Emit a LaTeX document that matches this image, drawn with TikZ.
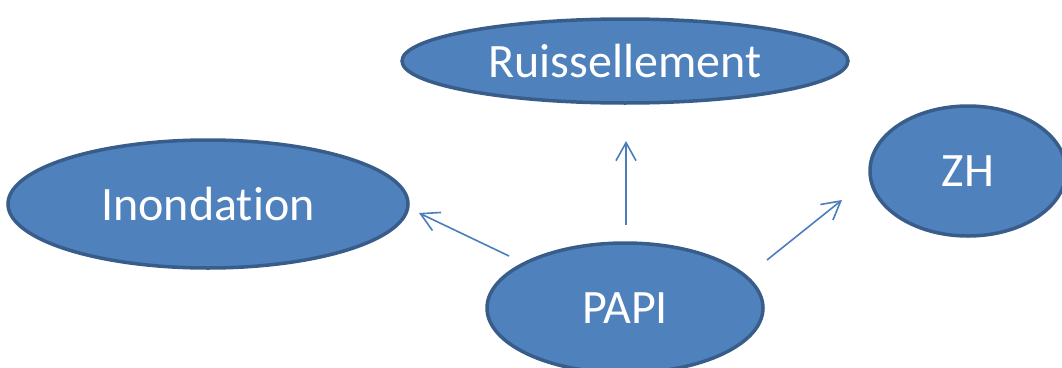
\documentclass[tikz,border=0pt]{standalone}
\usepackage{fontspec}
\setmainfont{Carlito}[Ligatures=NoCommon]
\usetikzlibrary{shapes.geometric,arrows.meta}
\definecolor{fillblue}{HTML}{4F81BD}
\definecolor{edgeblue}{HTML}{385D8A}
\definecolor{arrowblue}{HTML}{4A7EBB}
\tikzset{
  bubble/.style={ellipse, fill=fillblue, draw=edgeblue, line width=3.5pt, inner sep=0pt,
    text=white, font=\fontsize{48}{54}\selectfont},
  link/.style={draw=arrowblue, line width=1.6pt, -{Straight Barb[length=18pt,width=20pt,line width=1.6pt]}}
}
\begin{document}
\begin{tikzpicture}[x=1pt,y=-1pt]
\useasboundingbox (0,0) rectangle (1062,367);
\node[bubble, minimum width=446pt, minimum height=84pt] (ruis) at (625,61) {Ruissellement};
\node[bubble, minimum width=400pt, minimum height=128pt] (inon) at (208,204) {Inondation};
\node[bubble, minimum width=196pt, minimum height=130pt] (zh) at (968,171) {ZH};
\node[bubble, minimum width=276pt, minimum height=130pt] (papi) at (625,308) {PAPI};
\coordinate (sU) at (626,225);
\coordinate (eU) at (626,141);
\coordinate (sL) at (509,256);
\coordinate (eL) at (419,213);
\coordinate (sR) at (767,260);
\coordinate (eR) at (842,200);
\draw[link] (sU) -- (eU);
\draw[link] (sL) -- (eL);
\draw[link] (sR) -- (eR);
\end{tikzpicture}
\end{document}
